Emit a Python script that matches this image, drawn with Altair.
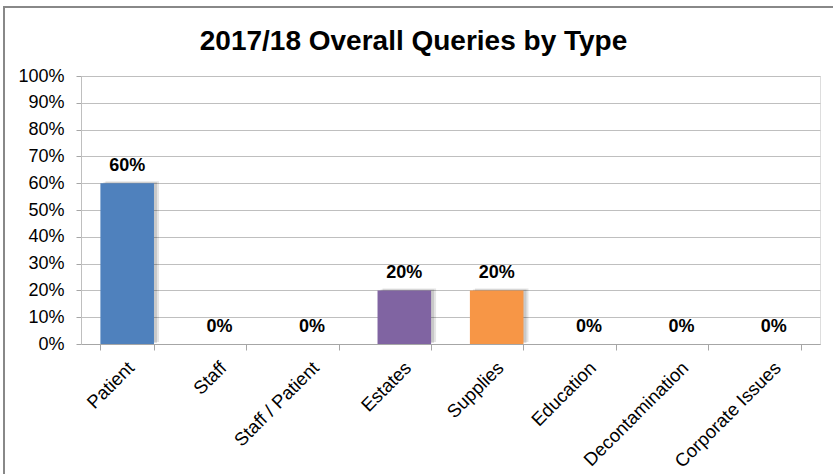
import altair as alt
import pandas as pd

categories = ["Patient", "Staff", "Staff / Patient", "Estates", "Supplies",
              "Education", "Decontamination", "Corporate Issues"]
shares = [0.60, 0.0, 0.0, 0.20, 0.20, 0.0, 0.0, 0.0]
bar_colors = ["#4F81BD", "#C0504D", "#9BBB59", "#8064A2", "#F79646",
              "#4BACC6", "#2C4D75", "#772C2A"]
y_ticks = [0.0, 0.1, 0.2, 0.3, 0.4, 0.5, 0.6, 0.7, 0.8, 0.9, 1.0]

FONT = "Liberation Sans"

df = pd.DataFrame({"category": categories, "share": shares})

x_enc = alt.X(
    "category:N", sort=categories,
    scale=alt.Scale(paddingInner=0.42, paddingOuter=0.21),
    axis=alt.Axis(title=None, labelAngle=-45, labelFontSize=18.5, labelFont=FONT,
                  labelColor="#000000", tickBand="extent", tickSize=6,
                  tickColor="#A6A6A6", domainColor="#A6A6A6", labelPadding=8,
                  labelOffset=-3, grid=False),
)
y_enc = alt.Y(
    "share:Q", scale=alt.Scale(domain=[0, 1]),
    axis=alt.Axis(title=None, values=y_ticks, format=".0%", labelFontSize=18,
                  labelFont=FONT, labelColor="#000000", tickSize=5,
                  labelPadding=12, gridColor="#BFBFBF", domainColor="#BFBFBF",
                  tickColor="#A6A6A6", grid=True),
)
color_enc = alt.Color("category:N", scale=alt.Scale(domain=categories, range=bar_colors),
                      legend=None)

base = alt.Chart(df)

shadow1 = base.mark_bar(color="#000000", opacity=0.10, xOffset=5, yOffset=-2).encode(
    x=x_enc, y=y_enc)
shadow2 = base.mark_bar(color="#000000", opacity=0.12, xOffset=3, yOffset=-1).encode(
    x=x_enc, y=y_enc)
bars = base.mark_bar().encode(x=x_enc, y=y_enc, color=color_enc)
labels = base.mark_text(dy=-12, baseline="alphabetic", fontSize=18, fontWeight="bold",
                        font=FONT, color="#000000").encode(
    x=x_enc, y=y_enc, text=alt.Text("share:Q", format=".0%"))

border = alt.Chart(alt.Data(values=[{"b": 1}])).mark_rect(
    fill=None, stroke="#888888", strokeWidth=2).encode(
    x=alt.value(-77), x2=alt.value(780), y=alt.value(-69), y2=alt.value(520))

chart = alt.layer(border, shadow1, shadow2, bars, labels).properties(
    width=739, height=268,
    title=alt.TitleParams("2017/18 Overall Queries by Type", fontSize=28,
                          fontWeight="bold", font=FONT, anchor="middle", dx=-37,
                          offset=-50, color="#000000"),
    autosize=alt.AutoSizeParams(type="none"),
    padding={"left": 81, "top": 76, "right": 13, "bottom": 130},
).configure_view(stroke=None).configure(background="white")

chart.save("out.html", embed_options={"renderer": "svg", "actions": False})
